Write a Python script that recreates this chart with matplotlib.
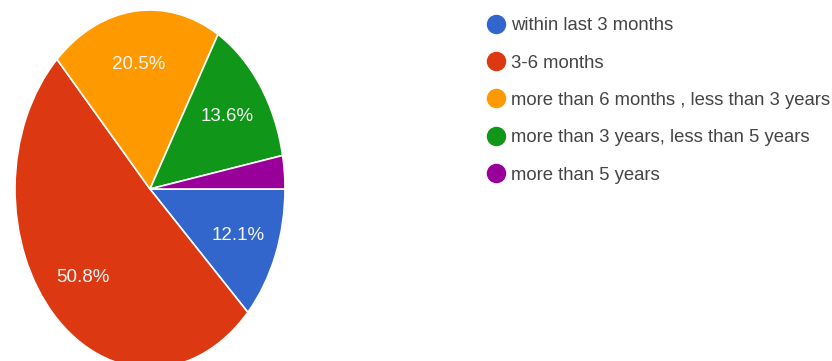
import matplotlib.pyplot as plt
from matplotlib.lines import Line2D

plt.rcParams['font.family'] = ['Liberation Sans', 'DejaVu Sans']

# datos
categorias = ['within last 3 months', '3-6 months',
              'more than 6 months , less than 3 years',
              'more than 3 years, less than 5 years',
              'more than 5 years']
porcentajes = [12.1, 50.8, 20.5, 13.6, 3.0]
colores = ['#3366cc', '#dc3912', '#ff9900', '#109618', '#990099']

fig = plt.figure(figsize=(8.32, 3.61), dpi=100)

# el pastel original esta estirado verticalmente (elipse)
ax = fig.add_axes([15 / 832, -7 / 361, 270 / 832, 358 / 361])


def etiqueta(p):
    return f'{p:.1f}%' if p >= 5 else ''


cunas, textos, autotextos = ax.pie(
    porcentajes, colors=colores, startangle=0, counterclock=False,
    autopct=etiqueta, pctdistance=0.7,
    wedgeprops={'edgecolor': 'white', 'linewidth': 1.2},
    textprops={'color': '#f4f4f4', 'fontsize': 13.5})
ax.set_aspect('auto')
ax.set_xlim(-1, 1)
ax.set_ylim(-1, 1)
ax.axis('off')

manejadores = [Line2D([], [], marker='o', linestyle='', markersize=13,
                      markerfacecolor=c, markeredgecolor=c) for c in colores]
fig.legend(manejadores, categorias, loc='upper left',
           bbox_to_anchor=(476 / 832, 1 - 8 / 361), frameon=False,
           fontsize=13.3, labelcolor='#444444', labelspacing=1.1,
           handletextpad=0.2, handlelength=1.2, borderpad=0)

fig.savefig('out.png', dpi=100)
